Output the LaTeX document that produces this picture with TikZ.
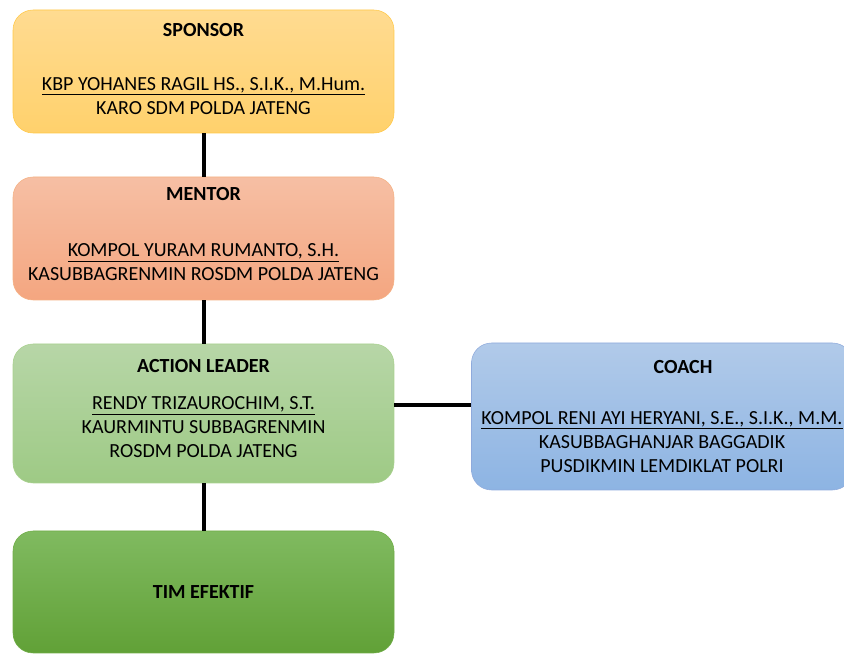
\documentclass[tikz,border=0pt]{standalone}
\usepackage{fontspec}
\setmainfont{Carlito}
\usetikzlibrary{positioning}
\definecolor{sponsortop}{RGB}{255,219,145}
\definecolor{sponsorbot}{RGB}{255,209,108}
\definecolor{sponsorline}{RGB}{255,200,70}
\definecolor{mentortop}{RGB}{246,191,164}
\definecolor{mentorbot}{RGB}{244,166,128}
\definecolor{mentorline}{RGB}{244,177,131}
\definecolor{leadertop}{RGB}{183,214,167}
\definecolor{leaderbot}{RGB}{158,202,133}
\definecolor{leaderline}{RGB}{169,209,142}
\definecolor{coachtop}{RGB}{177,202,233}
\definecolor{coachbot}{RGB}{141,180,227}
\definecolor{coachline}{RGB}{143,170,220}
\definecolor{timtop}{RGB}{128,186,96}
\definecolor{timbot}{RGB}{97,161,55}
\definecolor{timline}{RGB}{112,173,71}
\tikzset{
  box/.style={rounded corners=15pt, align=center, inner sep=0pt,
    minimum width=285.75pt, font=\fontsize{15}{18}\selectfont},
  link/.style={line width=3pt},
}

\begin{document}
\begin{tikzpicture}[x=0.75pt, y=-0.75pt]
		%%%%% START %%%%%
		\useasboundingbox (0,0) rectangle (844,655);
		\clip (0,0) rectangle (844,655);
		
		\node[box, minimum height=92.25pt, top color=sponsortop, bottom color=sponsorbot, draw=sponsorline] (sponsor) at (203.5, 71.5)
		{\textbf{SPONSOR}\\[22pt]\underline{KBP YOHANES RAGIL HS., S.I.K., M.Hum.}\\KARO SDM POLDA JATENG\\[-14pt]};
		
		\node[box, minimum height=92.25pt, top color=mentortop, bottom color=mentorbot, draw=mentorline] (mentor) at (203.5, 238.5)
		{\textbf{MENTOR}\\[24pt]\underline{KOMPOL YURAM RUMANTO, S.H.}\\KASUBBAGRENMIN ROSDM POLDA JATENG\\[-11pt]};
		
		\node[box, minimum height=104.25pt, top color=leadertop, bottom color=leaderbot, draw=leaderline] (leader) at (203.5, 413.5)
		{\textbf{ACTION LEADER}\\[10pt]\underline{RENDY TRIZAUROCHIM, S.T.}\\KAURMINTU SUBBAGRENMIN\\ROSDM POLDA JATENG\\[-10pt]};
		
		\node[box, minimum height=110.25pt, top color=coachtop, bottom color=coachbot, draw=coachline] (coach) at (662, 416.5)
		{\hspace*{31.5pt}\textbf{COACH}\\[20pt]\underline{KOMPOL RENI AYI HERYANI, S.E., S.I.K., M.M.}\\KASUBBAGHANJAR BAGGADIK\\PUSDIKMIN LEMDIKLAT POLRI};
		
		\node[box, minimum height=91.5pt, top color=timtop, bottom color=timbot, draw=timline] (tim) at (203.5, 592)
		{\textbf{TIM EFEKTIF}};
		
		\draw[link] (sponsor) -- (mentor);
		\draw[link] (mentor) -- (leader);
		\draw[link] (leader) -- (tim);
		\draw[link] ([yshift=6.4pt]leader.east) -- ([yshift=6.4pt]leader.east -| coach.west);
		%%%%% END %%%%%
\end{tikzpicture}
\end{document}
